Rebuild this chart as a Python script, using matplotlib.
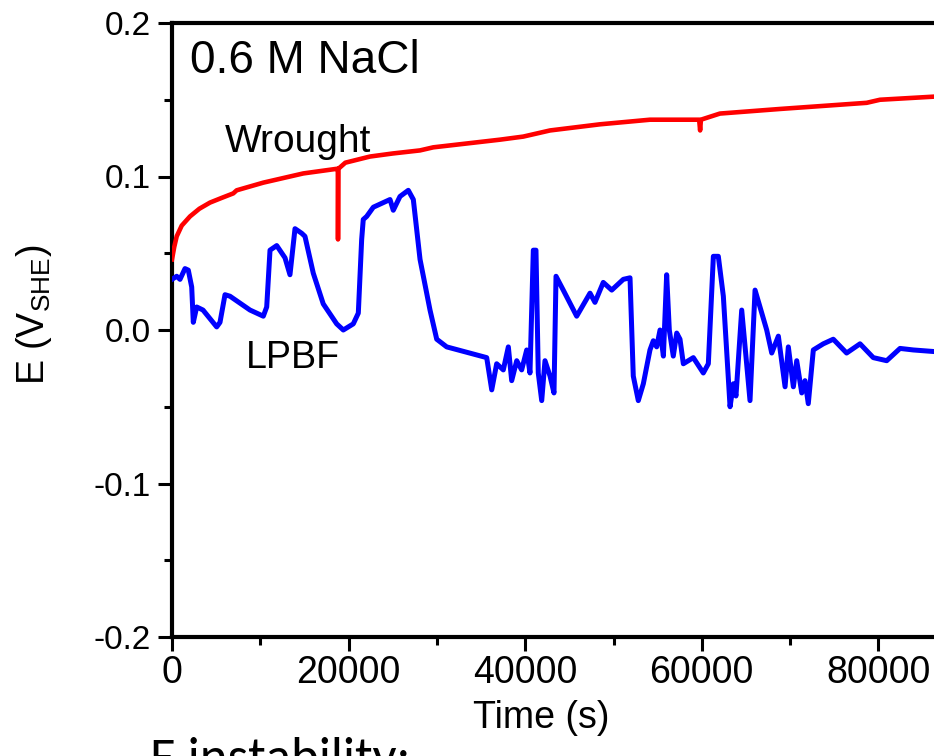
import matplotlib
matplotlib.use("Agg")
import matplotlib.pyplot as plt
from matplotlib import font_manager as fm
from matplotlib.ticker import MultipleLocator

# ---- data ----
lpbf_t = [0, 532, 906, 1472, 1846, 2231, 2412, 2797, 3511, 5062, 5436, 6002, 6569, 8834,
          10340, 10725, 11100, 11860, 12800, 13360, 13930, 14690, 15060, 16000, 17130,
          18650, 19400, 20530, 21100, 21480, 21660, 22050, 22800, 24690, 25060, 25820,
          26760, 27330, 28090, 29220, 29980, 31110, 35640, 36210, 36770, 37520, 38090,
          38470, 39040, 39600, 40170, 40540, 40920, 41220, 41480, 41870, 42240, 42810,
          43260, 43490, 44310, 45830, 47340, 47900, 48840, 49800, 51110, 51870, 52240,
          52810, 53380, 54130, 54510, 54890, 55270, 55650, 56020, 56320, 56770, 57160,
          57530, 57910, 59040, 60170, 60740, 61310, 61870, 62440, 63200, 63580, 63870,
          64520, 65460, 66030, 66590, 67350, 67920, 68670, 69430, 69800, 70370, 70750,
          71320, 71690, 72060, 72630, 73760, 74890, 76400, 77920, 79420, 80940, 82450,
          83950, 86220]
lpbf_E = [0.033, 0.035, 0.033, 0.040, 0.039, 0.028, 0.005, 0.015, 0.013, 0.002, 0.005,
          0.023, 0.022, 0.013, 0.009, 0.015, 0.052, 0.055, 0.047, 0.036, 0.066, 0.063,
          0.061, 0.037, 0.017, 0.004, 0.000, 0.004, 0.011, 0.059, 0.072, 0.074, 0.080,
          0.085, 0.078, 0.087, 0.091, 0.085, 0.046, 0.013, -0.006, -0.011, -0.018,
          -0.039, -0.022, -0.026, -0.011, -0.033, -0.020, -0.026, -0.013, -0.028, 0.052,
          0.052, -0.028, -0.046, -0.020, -0.030, -0.041, 0.035, 0.026, 0.009, 0.024,
          0.018, 0.031, 0.026, 0.033, 0.034, -0.030, -0.046, -0.035, -0.013, -0.007,
          -0.011, 0.000, -0.017, 0.036, 0.000, -0.017, -0.002, -0.006, -0.022, -0.018,
          -0.028, -0.022, 0.048, 0.048, 0.022, -0.050, -0.035, -0.043, 0.013, -0.046,
          0.026, 0.015, 0.000, -0.015, -0.004, -0.037, -0.011, -0.037, -0.020, -0.041,
          -0.033, -0.048, -0.013, -0.009, -0.006, -0.015, -0.009, -0.018, -0.020,
          -0.012, -0.013, -0.014]

wrought_t = [0, 250, 532, 1100, 2040, 3100, 4300, 5600, 6940, 7320, 10340, 14870, 18650,
             18780, 18800, 18840, 19630, 22420, 25000, 28090, 29590, 37150, 39780, 42810,
             48470, 54130, 59420, 59700, 59810, 59900, 62050, 68860, 78670, 80180, 86220]
wrought_E = [0.046, 0.054, 0.061, 0.068, 0.074, 0.079, 0.083, 0.086, 0.089, 0.091, 0.096,
             0.102, 0.105, 0.105, 0.059, 0.105, 0.109, 0.113, 0.115, 0.117, 0.119, 0.124,
             0.126, 0.130, 0.134, 0.137, 0.137, 0.137, 0.130, 0.137, 0.141, 0.144, 0.148,
             0.150, 0.152]

x_ticks = [0, 20000, 40000, 60000, 80000]
y_ticks = [-0.2, -0.1, 0.0, 0.1, 0.2]

# ---- fonts ----
avail = {f.name for f in fm.fontManager.ttflist}
arial = "Liberation Sans"
calibri = "Carlito" if "Carlito" in avail else "Lato"
plt.rcParams["font.family"] = [arial, "DejaVu Sans"]
plt.rcParams["mathtext.fontset"] = "custom"
plt.rcParams["mathtext.rm"] = arial

W, H = 934, 756
fig = plt.figure(figsize=(W / 100, H / 100), dpi=100)
ax_left, ax_bottom_px, ax_top_px = 172, 637, 23
xmax = 90000
px_per_unit = 176.6 / 20000
ax_w = xmax * px_per_unit
ax = fig.add_axes([ax_left / W, 1 - ax_bottom_px / H, ax_w / W, (ax_bottom_px - ax_top_px) / H])

ax.plot(wrought_t, wrought_E, color="#ff0000", lw=3.3, solid_joinstyle="round", zorder=3)
ax.plot(lpbf_t, lpbf_E, color="#0000ff", lw=3.6, solid_joinstyle="round", zorder=3)

ax.set_xlim(0, xmax)
ax.set_ylim(-0.2, 0.2)
ax.set_xticks(x_ticks)
ax.set_yticks(y_ticks)
ax.set_yticklabels([f"{v:.1f}" for v in y_ticks])
ax.xaxis.set_minor_locator(MultipleLocator(10000))
ax.yaxis.set_minor_locator(MultipleLocator(0.05))

for s in ax.spines.values():
    s.set_linewidth(3.0)
ax.tick_params(which="major", direction="out", length=10, width=2.2, pad=4)
ax.tick_params(which="minor", direction="out", length=6, width=2.2)
ax.tick_params(axis="y", labelsize=24, pad=5)
ax.tick_params(axis="x", labelsize=27, pad=3)

fig.text(34 / W, 1 - 315 / H, r"E (V$_{\mathregular{SHE}}$)", fontsize=27, rotation=90,
         ha="center", va="center")
fig.text(541 / W, 1 - 700 / H, "Time (s)", fontsize=27, ha="center", va="top")

fig.text(190 / W, 1 - 73 / H, "0.6 M NaCl", fontsize=33, ha="left", va="baseline")
fig.text(225 / W, 1 - 152 / H, "Wrought", fontsize=28, ha="left", va="baseline")
fig.text(246 / W, 1 - 368 / H, "LPBF", fontsize=27, ha="left", va="baseline")
fig.text(150 / W, 1 - 774 / H, "E instability:", fontsize=38, family=[calibri, "DejaVu Sans"],
         ha="left", va="baseline")

fig.savefig("out.png", dpi=100)
